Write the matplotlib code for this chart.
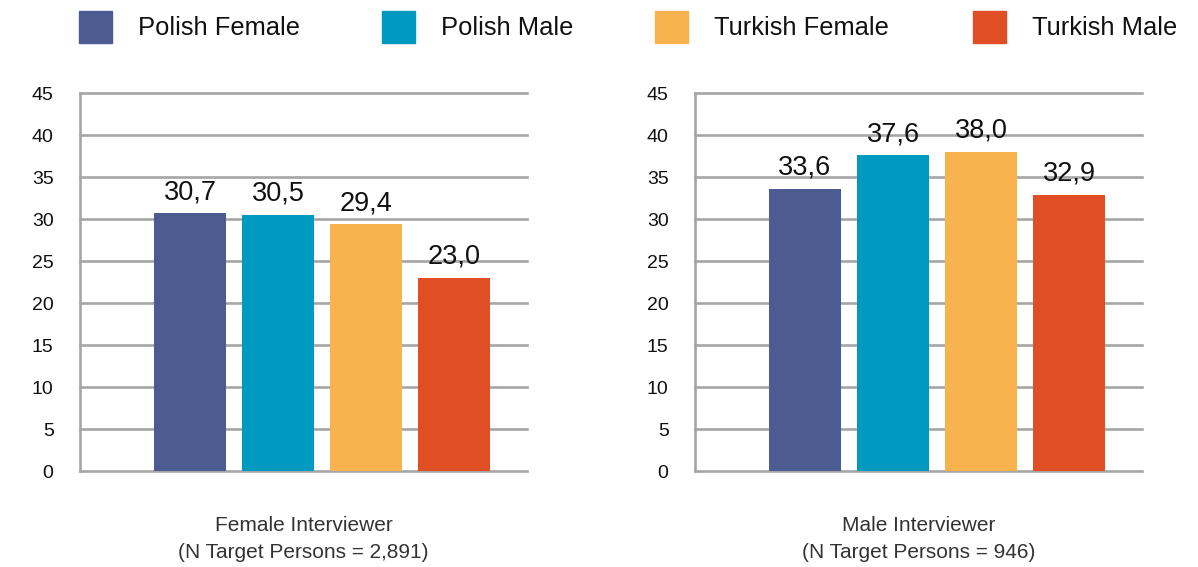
import numpy as np
import matplotlib.pyplot as plt
from matplotlib.patches import Rectangle

plt.rcParams['font.family'] = ['Liberation Sans', 'DejaVu Sans']

series = ['Polish Female', 'Polish Male', 'Turkish Female', 'Turkish Male']
colors = ['#4C5B92', '#009AC0', '#F8B34E', '#E04E24']
female_interviewer = [30.7, 30.5, 29.4, 23.0]
male_interviewer = [33.6, 37.6, 38.0, 32.9]
panel_titles = ['Female Interviewer\n(N Target Persons = 2,891)',
                'Male Interviewer\n(N Target Persons = 946)']
y_ticks = [0, 5, 10, 15, 20, 25, 30, 35, 40, 45]

W, H = 1198, 567
fig = plt.figure(figsize=(W / 100, H / 100), dpi=100)

grid_color = '#A6A6A6'


def draw_panel(ax, values, title):
    x = np.arange(len(values))
    ax.bar(x, values, width=0.82, color=colors, zorder=3)
    for xi, v in zip(x, values):
        ax.annotate(f"{v:.1f}".replace('.', ','), (xi, v), xytext=(0, 15),
                    textcoords='offset points', ha='center', va='center',
                    fontsize=19.5, color='#111111')
    ax.set_xlim(-1.25, 3.83)
    ax.set_ylim(0, 45)
    ax.set_yticks(y_ticks)
    ax.tick_params(axis='y', length=0, labelsize=14, pad=19, labelcolor='#111111')
    ax.set_xticks([])
    ax.grid(axis='y', color=grid_color, linewidth=1.9, zorder=0)
    for gl in ax.get_ygridlines():
        gl.set_clip_on(False)
    for s in ['top', 'right', 'bottom']:
        ax.spines[s].set_visible(False)
    ax.spines['left'].set_color(grid_color)
    ax.spines['left'].set_linewidth(1.9)
    ax.text(0.5, -0.18, title, transform=ax.transAxes, ha='center', va='center',
            fontsize=15, color='#333333', linespacing=1.55)


ax1 = fig.add_axes([80 / W, 1 - 471 / H, 447 / W, 378 / H])
ax2 = fig.add_axes([695 / W, 1 - 471 / H, 447 / W, 378 / H])
draw_panel(ax1, female_interviewer, panel_titles[0])
draw_panel(ax2, male_interviewer, panel_titles[1])

# legend across the top
square_x = [79, 382, 655, 973]
for sx, name, c in zip(square_x, series, colors):
    fig.patches.append(Rectangle((sx / W, 1 - 43 / H), 33 / W, 32 / H,
                                 transform=fig.transFigure, color=c))
    fig.text((sx + 59) / W, 1 - 28 / H, name, fontsize=18.4, va='center',
             ha='left', color='#111111')

plt.savefig('out.png', dpi=100)
